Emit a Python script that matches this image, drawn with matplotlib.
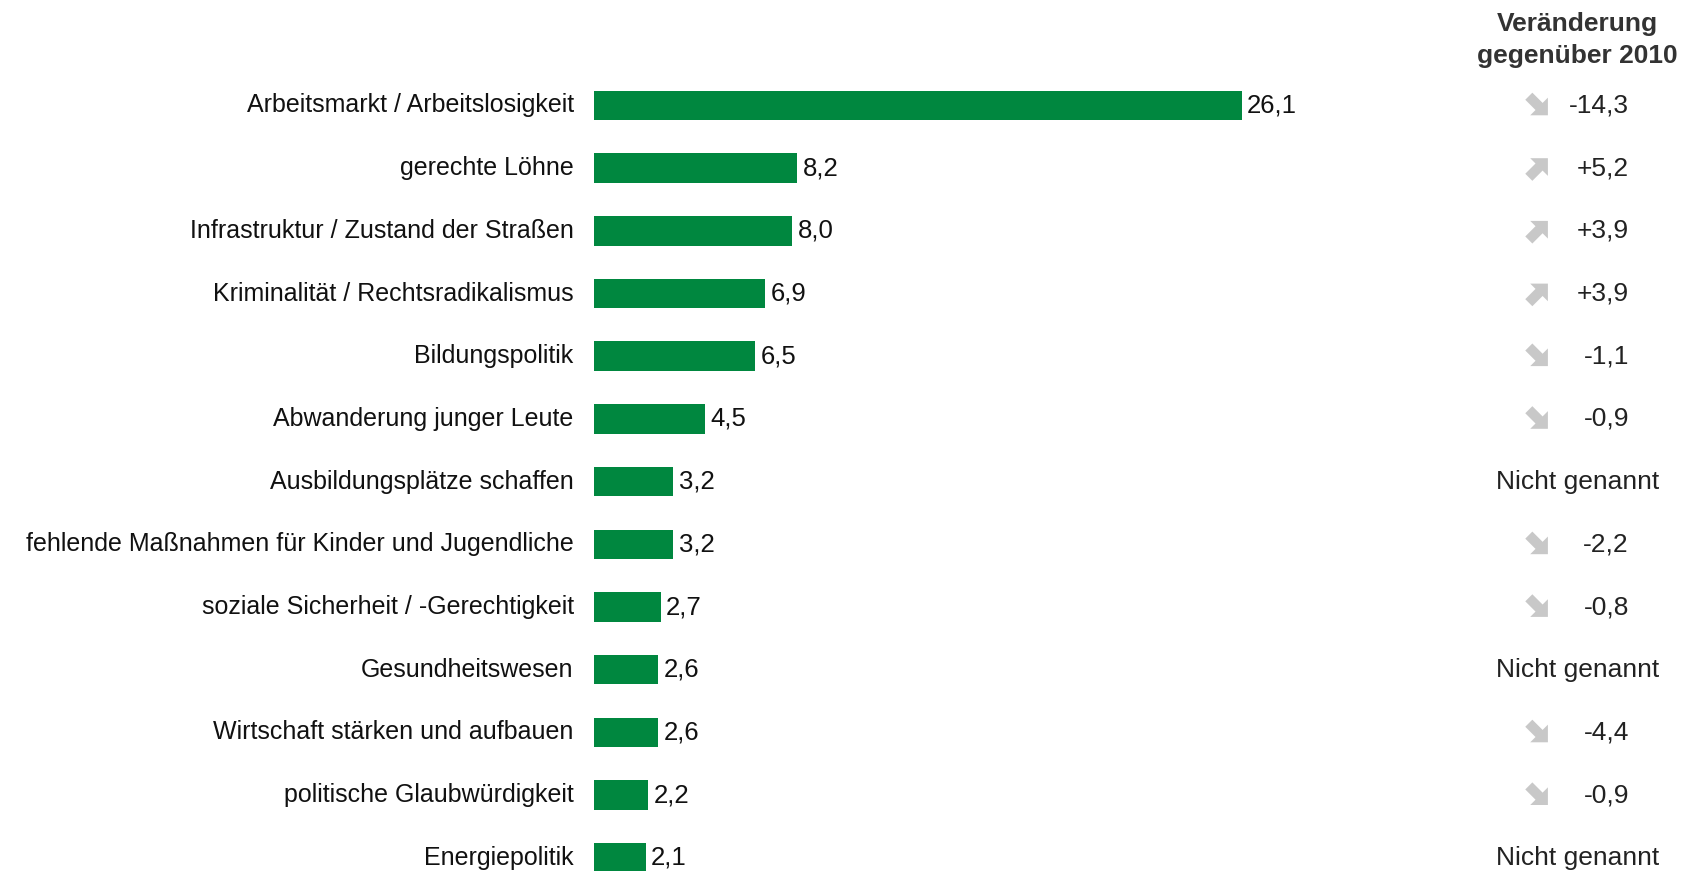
import matplotlib.pyplot as plt
import matplotlib.transforms as mtrans
from matplotlib.patches import Polygon

plt.rcParams['font.family'] = ['Liberation Sans', 'DejaVu Sans']

categories = ['Arbeitsmarkt / Arbeitslosigkeit', 'gerechte Löhne',
              'Infrastruktur / Zustand der Straßen', 'Kriminalität / Rechtsradikalismus',
              'Bildungspolitik', 'Abwanderung junger Leute', 'Ausbildungsplätze schaffen',
              'fehlende Maßnahmen für Kinder und Jugendliche',
              'soziale Sicherheit / -Gerechtigkeit', 'Gesundheitswesen',
              'Wirtschaft stärken und aufbauen', 'politische Glaubwürdigkeit',
              'Energiepolitik']
values = [26.1, 8.2, 8.0, 6.9, 6.5, 4.5, 3.2, 3.2, 2.7, 2.6, 2.6, 2.2, 2.1]
# change vs 2010, None = not mentioned
changes = [-14.3, 5.2, 3.9, 3.9, -1.1, -0.9, None, -2.2, -0.8, None, -4.4, -0.9, None]

W, H = 1686, 871
fig = plt.figure(figsize=(W / 100, H / 100), dpi=100)

left = 593.6 / W
xmax = 30
width = (648 / 26.1 * xmax) / W
ax = fig.add_axes([left, 0, width, 1])

step = 62.7
y0 = 105.4
ax.set_ylim(12 + (H - (y0 + 12 * step)) / step, -y0 / step)
ax.set_xlim(0, xmax)

pos = list(range(len(categories)))
ax.barh(pos, values, height=0.47, color='#00873f')
for p, v, c in zip(pos, values, categories):
    ax.text(v + 0.22, p, f'{v:.1f}'.replace('.', ','), va='center', ha='left',
            fontsize=18.5, color='#111111')
    ax.text(-0.8, p, c, va='center', ha='right', fontsize=18, color='#111111')

ax.axis('off')

# thick arrow shape, pointing east, in pixels
shape = [(-13, -5), (1.5, -5), (1.5, -12.5), (14, 0), (1.5, 12.5), (1.5, 5), (-13, 5)]

tr = mtrans.blended_transform_factory(fig.transFigure, ax.transData)
for p, ch in zip(pos, changes):
    if ch is None:
        ax.text(1578 / W, p, 'Nicht genannt', transform=tr, ha='center', va='center',
                fontsize=19, color='#222222', clip_on=False)
    else:
        s = f'{ch:+.1f}'.replace('.', ',')
        ang = -45 if ch < 0 else 45
        cx, cy = tr.transform((1538 / W, p))
        t = mtrans.Affine2D().rotate_deg(ang).translate(cx, cy)
        fig.patches.append(Polygon(shape, closed=True, transform=t, color='#c8c8c8',
                                   lw=0, figure=fig))
        ax.text(1629 / W, p, s, transform=tr, ha='right', va='center',
                fontsize=19, color='#222222', clip_on=False)

fig.text(1577 / W, 1 - 40 / H, 'Veränderung\ngegenüber 2010', ha='center', va='center',
         fontsize=19, fontweight='bold', color='#333333', linespacing=1.4)

fig.savefig('out.png', dpi=100)
